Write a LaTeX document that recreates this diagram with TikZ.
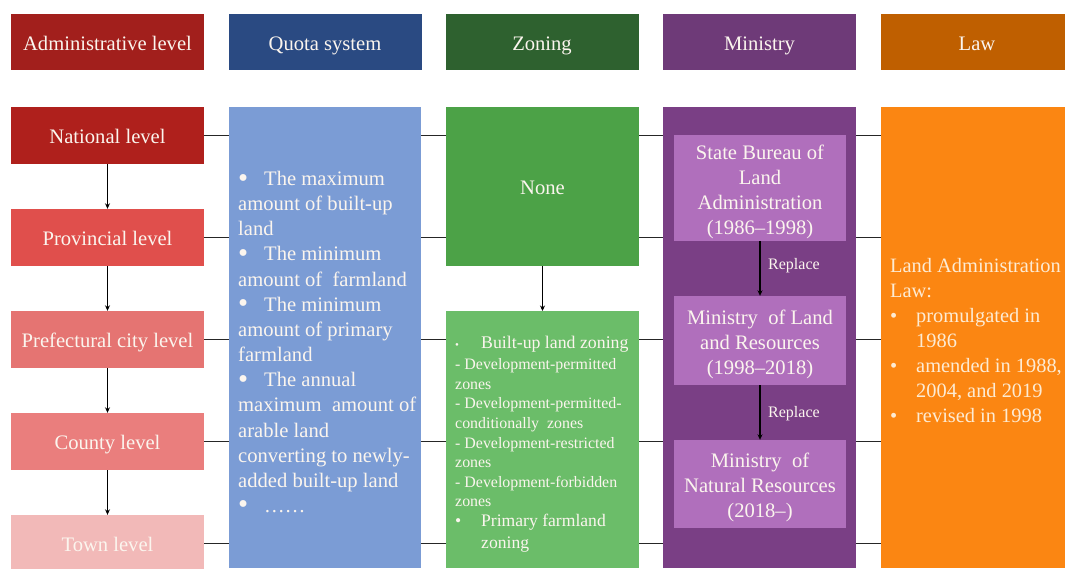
\documentclass[tikz,border=0pt]{standalone}
\usepackage{fontspec}
\setmainfont{Liberation Serif}
\usetikzlibrary{arrows.meta}
\pgfdeclarelayer{background}
\pgfsetlayers{background,main}
\definecolor{hAdm}{HTML}{A21F1C}
\definecolor{hQuo}{HTML}{2A4A82}
\definecolor{hZon}{HTML}{2E612F}
\definecolor{hMin}{HTML}{6E3A78}
\definecolor{hLaw}{HTML}{BF5F00}
\definecolor{cNat}{HTML}{AF201C}
\definecolor{cPro}{HTML}{E04F4C}
\definecolor{cPre}{HTML}{E57472}
\definecolor{cCty}{HTML}{EA7E7D}
\definecolor{cTown}{HTML}{F2B9B8}
\definecolor{qBody}{HTML}{7B9CD5}
\definecolor{zNone}{HTML}{4CA247}
\definecolor{zLow}{HTML}{6BBD69}
\definecolor{mBody}{HTML}{7A3F85}
\definecolor{mIn}{HTML}{B06FBC}
\definecolor{lBody}{HTML}{FB8612}
\definecolor{txt}{HTML}{FBF5EE}
\definecolor{ltxt}{HTML}{FDEBD3}
\newcommand{\qbul}{\makebox[26pt][l]{\smash{\raisebox{-1.5pt}{\scalebox{1.4}{•}}}}}
\begin{document}
\begin{tikzpicture}[x=1pt,y=-1pt,
  box/.style={rectangle, inner sep=0pt, minimum width=193pt, text=txt, align=center,
              text height=17pt, text depth=1pt,
              font=\fontsize{20.6}{25}\selectfont},
  inbox/.style={rectangle, inner sep=0pt, minimum width=172pt, fill=mIn},
  intext/.style={inner sep=0pt, text=txt, align=center, font=\fontsize{20.6}{25}\selectfont},
  body/.style={rectangle, inner sep=0pt, anchor=north west, minimum width=193pt, minimum height=461pt},
  blocktext/.style={inner sep=0pt, anchor=north west, align=left, text=txt},
  replabel/.style={anchor=west, inner sep=0pt, text=txt, font=\fontsize{16}{18}\selectfont},
  hline/.style={line width=1.5pt, black!85},
  arr/.style={line width=1.4pt, black, -{Stealth[length=5.5pt,width=5pt]}}]
\useasboundingbox (0,0) rectangle (1065,568);
\clip (0,0) rectangle (1065,568);
\coordinate (R) at (1065,0);
% headers
\node[box, fill=hAdm, minimum height=56pt] (hadm) at (107.5,42) {Administrative level};
\node[box, fill=hQuo, minimum height=56pt] (hquo) at (325,42) {Quota system};
\node[box, fill=hZon, minimum height=56pt] (hzon) at (542,42) {Zoning};
\node[box, fill=hMin, minimum height=56pt] (hmin) at (759.5,42) {Ministry};
\node[box, fill=hLaw, minimum height=56pt] (hlaw) at (977,42) {Law};
% administrative levels
\node[box, fill=cNat, minimum height=57pt] (nat) at (107.5,135.5) {National level};
\node[box, fill=cPro, minimum height=57pt] (prov) at (107.5,237.5) {Provincial level};
\node[box, fill=cPre, minimum height=57pt] (pref) at (107.5,339.5) {Prefectural city level};
\node[box, fill=cCty, minimum height=57pt] (cty) at (107.5,441.5) {County level};
\node[box, fill=cTown, minimum height=57pt] (town) at (107.5,543.5) {Town level};
% quota
\node[body, fill=qBody, minimum width=192pt] (quota) at (229,107) {};
\node[blocktext, font=\fontsize{20.6}{25.15}\selectfont] (qtext) at (238,171) {%
\qbul The maximum\\
amount of built-up\\
land\\
\qbul The minimum\\
amount of\ \ farmland\\
\qbul The minimum\\
amount of primary\\
farmland\\
\qbul The annual\\
maximum\ \ amount of\\
arable land\\
converting to newly-\\
added built-up land\\
\qbul ……};
% zoning
\node[box, fill=zNone, minimum height=159pt] (none) at (542.5,186.5) {None};
\node[body, fill=zLow, minimum height=257pt] (zlow) at (446,311) {};
\node[blocktext, font=\fontsize{17.8}{21}\selectfont] (ztop) at (455,336) {%
\makebox[26pt][l]{\fontsize{11}{11}\selectfont •}Built-up land zoning};
\node[blocktext, font=\fontsize{15.9}{19.6}\selectfont] (zmid) at (455,358.5) {%
- Development-permitted\\
zones\\
- Development-permitted-\\
conditionally\ \ zones\\
- Development-restricted\\
zones\\
- Development-forbidden\\
zones};
\node[blocktext, font=\fontsize{17.6}{22}\selectfont] (zbot) at (455,514) {%
\makebox[26pt][l]{•}Primary farmland\\
\hspace*{26pt}zoning};
% ministry
\node[body, fill=mBody] (mbody) at (663,107) {};
\node[inbox, minimum height=106pt] (m1) at (760,188) {};
\node[inbox, minimum height=89pt] (m2) at (760,340.5) {};
\node[inbox, minimum height=88pt] (m3) at (760,484) {};
\node[intext] (m1t) at ([yshift=-3.5pt]m1.center) {State Bureau of\\Land\\Administration\\(1986–1998)};
\node[intext] (m2t) at ([yshift=-3.5pt]m2.center) {Ministry\ \ of Land\\and Resources\\(1998–2018)};
\node[intext] (m3t) at ([yshift=-3pt]m3.center) {Ministry\ \ of\\Natural Resources\\(2018–)};
\node[replabel] (r1) at (768,266) {Replace};
\node[replabel] (r2) at (768,414) {Replace};
% law
\node[body, fill=lBody] (lbody) at (881,107) {};
\node[blocktext, text=ltxt, font=\fontsize{20.4}{25}\selectfont] (ltext) at (890,258) {%
Land Administration\\
Law:\\
\makebox[26pt][l]{•}promulgated in\\
\hspace*{26pt}1986\\
\makebox[26pt][l]{•}amended in 1988,\\
\hspace*{26pt}2004, and 2019\\
\makebox[26pt][l]{•}revised in 1998};
% connectors
\begin{pgfonlayer}{background}
\foreach \n in {nat,prov,pref,cty,town}
  \draw[hline] (\n.east) -- (\n.east -| R);
\end{pgfonlayer}
\draw[arr] (nat.south) -- (prov.north);
\draw[arr] (prov.south) -- (pref.north);
\draw[arr] (pref.south) -- (cty.north);
\draw[arr] (cty.south) -- (town.north);
\draw[arr] (none.south) -- (none.south |- zlow.north);
\draw[arr] (m1.south) -- (m2.north);
\draw[arr] (m2.south) -- (m3.north);
\end{tikzpicture}
\end{document}
